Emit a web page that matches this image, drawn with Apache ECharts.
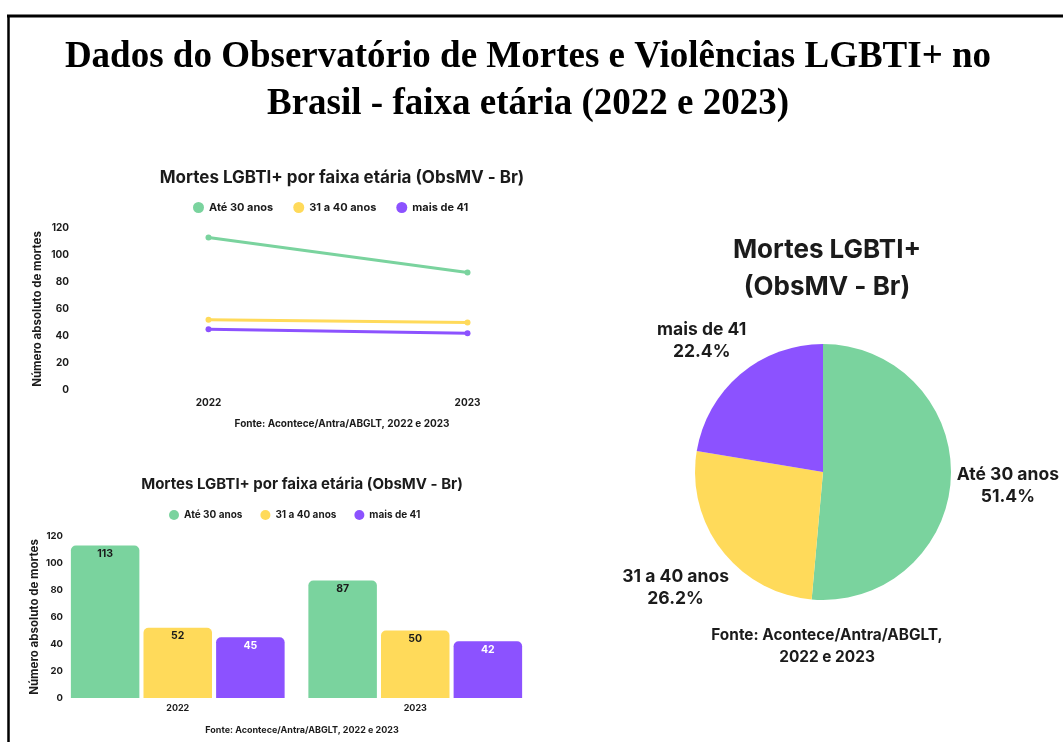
<!DOCTYPE html>
<html>
<head>
<meta charset="utf-8">
<title>Mortes LGBTI+ por faixa etária</title>
<script src="https://cdn.jsdelivr.net/npm/echarts/dist/echarts.min.js"></script>
<style>
    html, body { margin: 0; padding: 0; background: #fff; }
    #container { width: 1063px; height: 742px; }
</style>
</head>
<body>
<div id="container"></div>
<script>
// dados (ObsMV - Br)
var anos = ['2022', '2023'];
var faixas = ['Até 30 anos', '31 a 40 anos', 'mais de 41'];
var ate30 = [113, 87];
var de31a40 = [52, 50];
var mais41 = [45, 42];
// totais 2022 + 2023 para o gráfico de pizza
var totais = [200, 102, 87];
var yTicks = [0, 20, 40, 60, 80, 100, 120];

var cores = ['#7AD39E', '#FFDA5A', '#8C52FF'];
var fonte = 'Inter, "Noto Sans", sans-serif';
var preto = '#1b1b1b';

var myChart = echarts.init(document.getElementById('container'));
var option = null;

var serieLinha = [ate30, de31a40, mais41].map(function (d, i) {
    return {
        name: faixas[i],
        type: 'line',
        xAxisIndex: 0,
        yAxisIndex: 0,
        data: d,
        symbol: 'circle',
        symbolSize: 6,
        lineStyle: { width: 3, color: cores[i] },
        itemStyle: { color: cores[i] }
    };
});

var serieBarra = [ate30, de31a40, mais41].map(function (d, i) {
    return {
        name: faixas[i],
        type: 'bar',
        xAxisIndex: 1,
        yAxisIndex: 1,
        data: d,
        barGap: '6%',
        barCategoryGap: '10%',
        itemStyle: { color: cores[i], borderRadius: [5, 5, 0, 0] },
        label: {
            show: true,
            position: 'insideTop',
            distance: 3,
            fontFamily: fonte,
            fontWeight: 'bold',
            fontSize: 10.5,
            color: i == 2 ? '#fff' : preto
        }
    };
});

var eixoY = function (grid, tam, gap, margem) {
    return {
        type: 'value',
        gridIndex: grid,
        min: yTicks[0],
        max: yTicks[yTicks.length - 1],
        interval: 20,
        name: 'Número absoluto de mortes',
        nameLocation: 'middle',
        nameGap: gap,
        nameTextStyle: { fontFamily: fonte, fontWeight: 'bold', fontSize: 11.5, color: preto },
        axisLine: { show: false },
        axisTick: { show: false },
        splitLine: { show: false },
        axisLabel: { fontFamily: fonte, fontWeight: 'bold', fontSize: tam, color: preto, margin: margem }
    };
};

var eixoX = function (grid, tam, margem) {
    return {
        type: 'category',
        gridIndex: grid,
        data: anos,
        axisLine: { show: false },
        axisTick: { show: false },
        axisLabel: { fontFamily: fonte, fontWeight: 'bold', fontSize: tam, color: preto, margin: margem }
    };
};

var titulo = function (texto, x, y, tam, lh) {
    return {
        text: texto,
        left: x,
        top: y,
        textAlign: 'center',
        textStyle: { fontFamily: fonte, fontWeight: 'bold', fontSize: tam, color: preto, lineHeight: lh }
    };
};

option = {
    backgroundColor: '#fff',
    animation: false,
    title: [
        {
            text: 'Dados do Observatório de Mortes e Violências LGBTI+ no\nBrasil - faixa etária (2022 e 2023)',
            left: 523,
            top: 29,
            textAlign: 'center',
            textStyle: { fontFamily: '"Liberation Serif", serif', fontWeight: 'bold', fontSize: 37, color: '#000', lineHeight: 47 }
        },
        titulo('Mortes LGBTI+ por faixa etária (ObsMV - Br)', 337, 163, 17, 19),
        titulo('Fonte: Acontece/Antra/ABGLT, 2022 e 2023', 337, 413, 10, 12),
        titulo('Mortes LGBTI+ por faixa etária (ObsMV - Br)', 297, 471, 15, 17),
        titulo('Fonte: Acontece/Antra/ABGLT, 2022 e 2023', 297, 720, 9, 11),
        titulo('Mortes LGBTI+\n(ObsMV - Br)', 822, 227, 26, 37),
        titulo('Fonte: Acontece/Antra/ABGLT,\n2022 e 2023', 822, 619, 15.4, 22)
    ],
    legend: [
        {
            data: faixas,
            left: 188,
            top: 197,
            icon: 'circle',
            itemWidth: 11,
            itemHeight: 11,
            itemGap: 20,
            textStyle: { fontFamily: fonte, fontWeight: 'bold', fontSize: 11, color: preto }
        },
        {
            data: faixas,
            left: 164,
            top: 505,
            icon: 'circle',
            itemWidth: 10,
            itemHeight: 10,
            itemGap: 18,
            textStyle: { fontFamily: fonte, fontWeight: 'bold', fontSize: 10, color: preto }
        }
    ],
    grid: [
        { left: 79, top: 228, width: 518, height: 162 },
        { left: 59, top: 536, width: 475, height: 162 }
    ],
    xAxis: [eixoX(0, 10, 8), eixoX(1, 9, 6)],
    yAxis: [eixoY(0, 10, 35, 10), eixoY(1, 9.5, 18, -4)],
    series: serieLinha.concat(serieBarra).concat([
        {
            name: 'Mortes LGBTI+',
            type: 'pie',
            center: [823, 472],
            radius: 128,
            startAngle: 90,
            clockwise: true,
            percentPrecision: 1,
            avoidLabelOverlap: false,
            data: totais.map(function (v, i) {
                return { name: faixas[i], value: v, itemStyle: { color: cores[i] } };
            }),
            label: {
                show: true,
                position: 'outside',
                formatter: '{b}\n{d}%',
                fontFamily: fonte,
                fontWeight: 'bold',
                fontSize: 17.5,
                lineHeight: 22,
                color: preto
            },
            labelLine: { show: false, length: 52, length2: 0 },
            labelLayout: function () {
                return { align: 'center', dy: 6 };
            }
        }
    ]),
    graphic: [
        { type: 'line', shape: { x1: 7, y1: 16, x2: 1063, y2: 16 }, style: { stroke: '#000', lineWidth: 3 } },
        { type: 'line', shape: { x1: 8.5, y1: 15, x2: 8.5, y2: 742 }, style: { stroke: '#000', lineWidth: 2.5 } }
    ]
};

if (option && typeof option === "object") {
    myChart.setOption(option, true);
}
</script>
</body>
</html>
